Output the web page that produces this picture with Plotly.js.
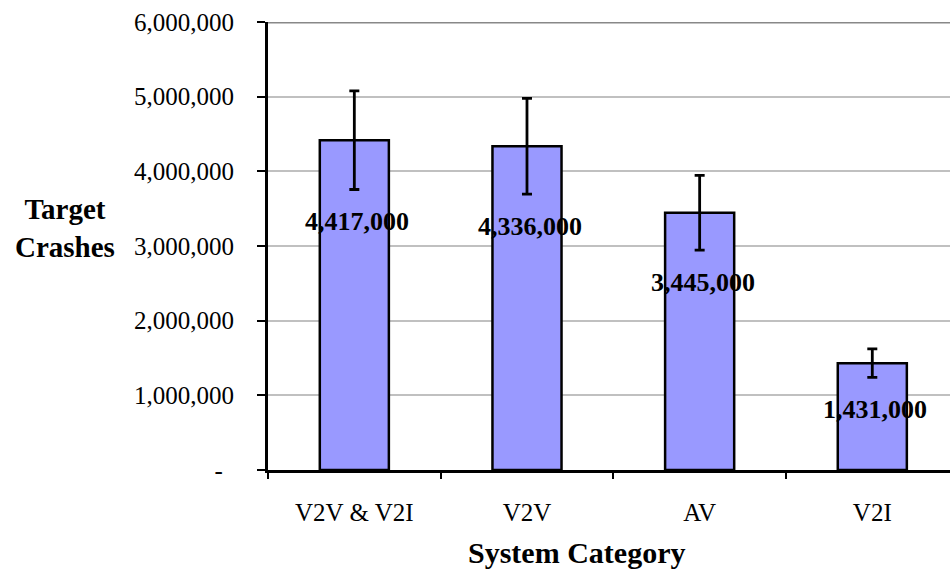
<!DOCTYPE html>
<html>
<head>
<meta charset="utf-8">
<script src="https://cdn.plot.ly/plotly-3.0.1.min.js"></script>
<style>html,body{margin:0;padding:0;background:#fff;}#chart{width:950px;height:571px;}</style>
</head>
<body>
<div id="chart"></div>
<script>
const categories = ["V2V & V2I", "V2V", "AV", "V2I"];
const crashes = [4417000, 4336000, 3445000, 1431000];
const errors = [660000, 640000, 500000, 190000];
const yTickVals = [0, 1000000, 2000000, 3000000, 4000000, 5000000, 6000000];
const yTickText = ["-\u00a0\u2009", "1,000,000", "2,000,000", "3,000,000", "4,000,000", "5,000,000", "6,000,000"];
const barLabels = ["4,417,000", "4,336,000", "3,445,000", "1,431,000"];

const font = "Liberation Serif, Times New Roman, serif";

const trace = {
  type: "bar",
  x: categories,
  y: crashes,
  width: 0.4,
  marker: {color: "#9999FF", line: {color: "#000", width: 2.5}},
  error_y: {type: "data", array: errors, visible: true, color: "#000", thickness: 2.8, width: 5},
  hoverinfo: "none"
};

const annotations = categories.map((c, i) => ({
  x: c, y: crashes[i] - errors[i], xref: "x", yref: "y",
  text: "<b>" + barLabels[i] + "</b>", showarrow: false,
  yanchor: "top", yshift: -16, xshift: 3,
  font: {family: font, size: 26, color: "#000"}
}));
annotations.push({
  xref: "paper", yref: "paper", x: -0.297, y: 0.54, xanchor: "center", yanchor: "middle",
  text: "<b>Target<br>Crashes</b>", showarrow: false,
  font: {family: font, size: 29, color: "#000"}
});
annotations.push({
  xref: "paper", yref: "paper", x: 0.453, y: -0.185, xanchor: "center", yanchor: "middle",
  text: "<b>System Category</b>", showarrow: false,
  font: {family: font, size: 30, color: "#000"}
});

const layout = {
  width: 950, height: 571,
  margin: {l: 268, r: 0, t: 22, b: 101},
  paper_bgcolor: "#fff", plot_bgcolor: "#fff",
  showlegend: false,
  font: {family: font, color: "#000"},
  xaxis: {
    type: "category", range: [-0.5, 3.45],
    showline: true, linecolor: "#000", linewidth: 3,
    ticks: "outside", tickson: "boundaries", ticklen: 6, tickwidth: 2, tickcolor: "#000",
    showgrid: false, zeroline: false,
    tickfont: {family: font, size: 25, color: "#000"},
    ticklabelstandoff: 18
  },
  yaxis: {
    range: [0, 6000000], tickvals: yTickVals, ticktext: yTickText,
    showline: true, linecolor: "#000", linewidth: 3,
    ticks: "outside", ticklen: 8, tickwidth: 2, tickcolor: "#000",
    showgrid: true, gridcolor: "#c0c0c0", gridwidth: 2, zeroline: false,
    tickfont: {family: font, size: 25, color: "#000"},
    ticklabelstandoff: 18
  },
  shapes: [{type: "line", xref: "paper", yref: "y", x0: 0, x1: 1, y0: 6000000, y1: 6000000,
            line: {color: "#888", width: 3}}],
  annotations: annotations
};

Plotly.newPlot("chart", [trace], layout, {displayModeBar: false, staticPlot: true});
</script>
</body>
</html>
